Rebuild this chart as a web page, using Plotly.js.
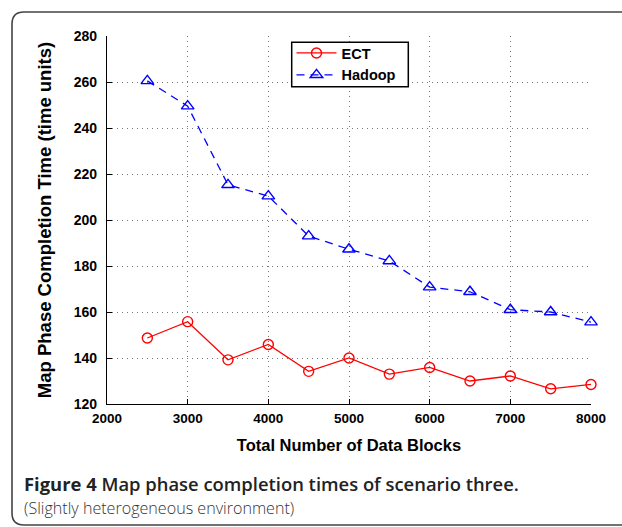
<!DOCTYPE html>
<html>
<head>
<meta charset="utf-8">
<script src="https://cdn.plot.ly/plotly-3.0.1.min.js"></script>
<style>
  html, body { margin: 0; padding: 0; background: #fff; }
  #chart { width: 622px; height: 527px; }
</style>
</head>
<body>
<div id="chart"></div>
<script>
// Data
var blocks = [2500, 3000, 3500, 4000, 4500, 5000, 5500, 6000, 6500, 7000, 7500, 8000];
var ectTimes = [148.7, 155.8, 139.2, 145.9, 134.2, 140.0, 133.0, 135.9, 130.0, 132.2, 126.6, 128.5];
var hadoopTimes = [260.5, 249.5, 215.3, 210.4, 193.0, 187.3, 182.2, 170.8, 168.8, 161.0, 160.0, 155.6];
var xTickVals = [2000, 3000, 4000, 5000, 6000, 7000, 8000];
var yTickVals = [120, 140, 160, 180, 200, 220, 240, 260, 280];

var ff = 'Liberation Sans, Arial, sans-serif';
var xTickFont = {family: ff, size: 13.5, color: '#000', weight: 700};
var yTickFont = {family: ff, size: 14, color: '#000', weight: 700};

var traces = [
  {
    x: blocks, y: ectTimes, name: 'ECT', type: 'scatter', mode: 'lines+markers',
    line: {color: '#ff0000', width: 1.3},
    marker: {symbol: 'circle-open', size: 10, color: '#ff0000', line: {width: 1.4, color: '#ff0000'}},
    cliponaxis: false
  },
  {
    x: blocks, y: hadoopTimes, name: 'Hadoop', type: 'scatter', mode: 'lines+markers',
    line: {color: '#0000ff', width: 1.3, dash: '8px,6px'},
    marker: {symbol: 'triangle-up-open', size: 11, color: '#0000ff', line: {width: 1.4, color: '#0000ff'}},
    cliponaxis: false
  }
];

// paper coordinates for decorations
var L = 107, R = 591, T = 36, B = 404;
function px(x) { return (x - L) / (R - L); }
function py(y) { return (B - y) / (B - T); }

var fl = px(12), ft = py(12), fb = py(525), fr = px(640);
var rx = 12 / (R - L), ry = 12 / (B - T);
var framePath = 'M ' + fr + ',' + ft + ' L ' + (fl + rx) + ',' + ft +
  ' Q ' + fl + ',' + ft + ' ' + fl + ',' + (ft - ry) +
  ' L ' + fl + ',' + (fb + ry) +
  ' Q ' + fl + ',' + fb + ' ' + (fl + rx) + ',' + fb +
  ' L ' + fr + ',' + fb;

var layout = {
  width: 622, height: 527,
  margin: {l: L, r: 622 - R, t: T, b: 527 - B, pad: 0},
  paper_bgcolor: '#fff', plot_bgcolor: '#fff',
  showlegend: true,
  legend: {
    x: px(291.5), y: py(37), xanchor: 'left', yanchor: 'top',
    bgcolor: 'rgba(0,0,0,0)', borderwidth: 0,
    font: {family: ff, size: 14.5, color: '#000', weight: 700},
    tracegroupgap: 0, itemwidth: 40
  },
  xaxis: {
    range: [2000, 8000], tickvals: xTickVals, ticktext: xTickVals.map(String),
    showline: true, linecolor: '#000', linewidth: 1.2, mirror: false,
    ticks: 'inside', ticklen: 5, tickwidth: 1, tickcolor: '#000',
    showgrid: true, gridcolor: '#777', gridwidth: 1, griddash: '1px,4px',
    zeroline: false, tickfont: xTickFont, automargin: false, ticklabelstandoff: 2,
    title: {text: 'Total Number of Data Blocks', font: {family: ff, size: 16.5, color: '#000', weight: 700}, standoff: 14}
  },
  yaxis: {
    range: [120, 280], tickvals: yTickVals, ticktext: yTickVals.map(String),
    showline: true, linecolor: '#000', linewidth: 1.2, mirror: false,
    ticks: 'inside', ticklen: 5, tickwidth: 1, tickcolor: '#000',
    showgrid: true, gridcolor: '#777', gridwidth: 1, griddash: '1px,4px',
    zeroline: false, tickfont: yTickFont, automargin: false, ticklabelstandoff: 6,
    title: {text: 'Map Phase Completion Time (time units)', font: {family: ff, size: 18.5, color: '#000', weight: 700}, standoff: 17}
  },
  shapes: [
    {type: 'path', xref: 'paper', yref: 'paper', path: framePath,
     line: {color: '#444', width: 1.6}, layer: 'below'},
    {type: 'rect', xref: 'paper', yref: 'paper',
     x0: px(291.7), x1: px(408.3), y0: py(86.7), y1: py(42.3),
     fillcolor: '#fff', line: {color: '#000', width: 1.5}, layer: 'above'}
  ],
  annotations: [
    {xref: 'paper', yref: 'paper', x: px(22), y: py(483.5), xanchor: 'left', yanchor: 'middle',
     showarrow: false, align: 'left',
     text: '<b>Figure 4</b> Map phase completion times of scenario three.',
     font: {family: 'Open Sans, Noto Sans, sans-serif', size: 18.4, color: '#222', weight: 600}},
    {xref: 'paper', yref: 'paper', x: px(22), y: py(508), xanchor: 'left', yanchor: 'middle',
     showarrow: false, align: 'left',
     text: '(Slightly heterogeneous environment)',
     font: {family: 'Open Sans, Noto Sans, sans-serif', size: 16.1, color: '#333', weight: 300}}
  ]
};

Plotly.newPlot('chart', traces, layout, {displayModeBar: false, staticPlot: true});
</script>
</body>
</html>
